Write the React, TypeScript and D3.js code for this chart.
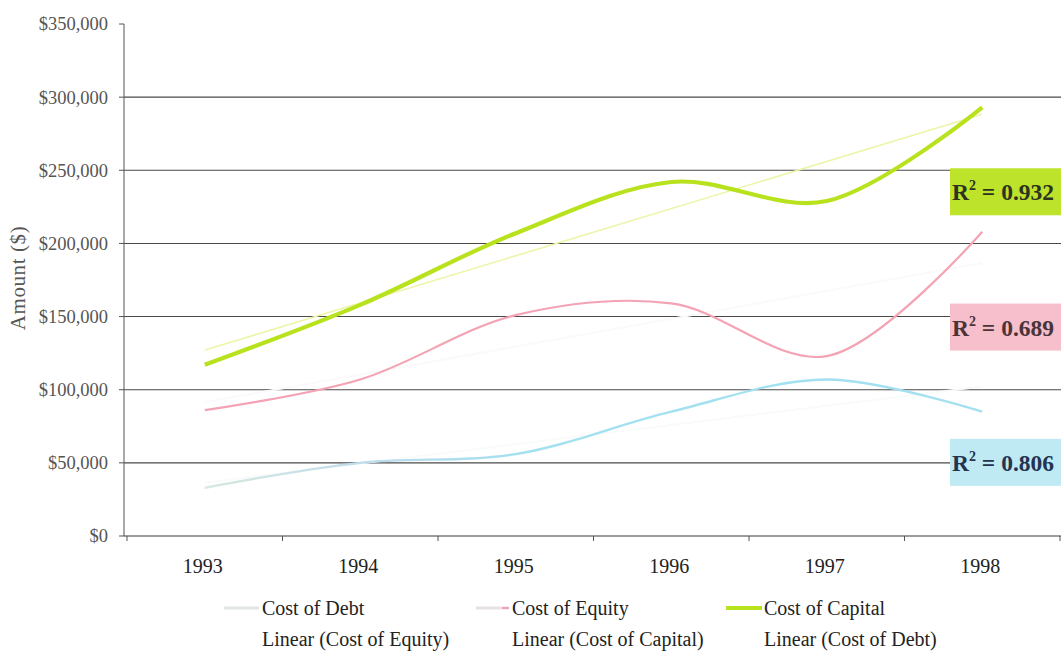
import React from "react";
import * as d3 from "d3";

// Yearly cost figures (US$)
const years = ["1993", "1994", "1995", "1996", "1997", "1998"];
const costOfDebt = [33000, 50000, 56000, 85000, 107000, 85000];
const costOfEquity = [86000, 107000, 151000, 159000, 123000, 208000];
const costOfCapital = [117000, 158000, 207000, 242000, 229000, 293000];
const yTicks = [0, 50000, 100000, 150000, 200000, 250000, 300000, 350000];
const rSquared = [
  { label: "0.932", fill: "#bde32a", text: "#2e3320" },
  { label: "0.689", fill: "#f6bfcb", text: "#4a3438" },
  { label: "0.806", fill: "#bfeaf3", text: "#243450" },
];

const W = 1061;
const H = 652;
const M = { left: 124, right: 1060, top: 24, bottom: 536 };
const FONT = "'Liberation Serif', 'DejaVu Serif', serif";

function linearFit(vals: number[]) {
  const n = vals.length;
  const xs = vals.map((_, i) => i);
  const mx = d3.mean(xs) as number;
  const my = d3.mean(vals) as number;
  let sxy = 0;
  let sxx = 0;
  xs.forEach((x, i) => {
    sxy += (x - mx) * (vals[i] - my);
    sxx += (x - mx) * (x - mx);
  });
  const slope = sxy / sxx;
  const icpt = my - slope * mx;
  return [0, n - 1].map((x) => ({ i: x, v: icpt + slope * x }));
}

export default function App() {
  const x = d3.scaleBand<string>().domain(years).range([127, M.right]);
  const cx = (i: number) => (x(years[i]) as number) + x.bandwidth() / 2;
  const y = d3.scaleLinear().domain([0, 350000]).range([M.bottom, M.top]);

  const smooth = d3
    .line<number>()
    .x((_, i) => cx(i))
    .y((v) => y(v))
    .curve(d3.curveCatmullRom.alpha(0.5));
  const straight = d3
    .line<{ i: number; v: number }>()
    .x((d) => cx(d.i))
    .y((d) => y(d.v));

  const bandEdges = years.map((yr) => x(yr) as number).concat([M.right]);
  const fmt = (v: number) => "$" + d3.format(",")(v);

  const boxY = [y(250000) - 2, y(150000) - 13, y(50000) - 24];

  return (
    <svg
      width={W}
      height={H}
      style={{ position: "absolute", left: 0, top: 0, background: "#fff" }}
      fontFamily={FONT}
    >
      <defs>
        <linearGradient id="debtFade" gradientUnits="userSpaceOnUse" x1={cx(0)} x2={cx(2)} y1={0} y2={0}>
          <stop offset="0" stopColor="#d9e8e1" />
          <stop offset="0.55" stopColor="#bcdcec" />
          <stop offset="1" stopColor="#a3e0f0" />
        </linearGradient>
      </defs>

      {/* gridlines */}
      {yTicks
        .filter((t) => t > 0 && t < 350000)
        .map((t) => (
          <line key={t} x1={M.left} x2={W} y1={y(t)} y2={y(t)} stroke="#4a4a4a" strokeWidth={1.1} />
        ))}

      {/* y axis */}
      <line x1={M.left} x2={M.left} y1={M.top} y2={M.bottom} stroke="#555" strokeWidth={1} />
      {yTicks.map((t) => (
        <g key={t}>
          <line x1={M.left - 5} x2={M.left} y1={y(t)} y2={y(t)} stroke="#555" />
          <text x={108} y={y(t)} dy="0.35em" textAnchor="end" fontSize={18.5} fill="#555">
            {fmt(t)}
          </text>
        </g>
      ))}
      <text
        transform={`translate(25,${278}) rotate(-90)`}
        textAnchor="middle"
        fontSize={21}
        letterSpacing={0.6}
        fill="#555"
      >
        Amount ($)
      </text>

      {/* x axis */}
      <line x1={M.left} x2={W} y1={M.bottom} y2={M.bottom} stroke="#3a3a3a" strokeWidth={1.2} />
      {bandEdges.map((e, i) => (
        <line key={i} x1={e} x2={e} y1={M.bottom} y2={M.bottom + 5} stroke="#555" />
      ))}
      {years.map((yr, i) => (
        <text key={yr} x={cx(i) - 2} y={573} textAnchor="middle" fontSize={20} fill="#222">
          {yr}
        </text>
      ))}

      {/* linear trendlines */}
      <path d={straight(linearFit(costOfEquity)) as string} fill="none" stroke="#fbf9f9" strokeWidth={2} />
      <path d={straight(linearFit(costOfDebt)) as string} fill="none" stroke="#f9fbfb" strokeWidth={2} />
      <path d={straight(linearFit(costOfCapital)) as string} fill="none" stroke="#eef5a8" strokeWidth={1.6} />

      {/* series */}
      <path d={smooth(costOfDebt) as string} fill="none" stroke="url(#debtFade)" strokeWidth={2.4} />
      <path d={smooth(costOfEquity) as string} fill="none" stroke="#f3a3b3" strokeWidth={2.2} />
      <path d={smooth(costOfCapital) as string} fill="none" stroke="#b9e21e" strokeWidth={4.2} />

      {/* R squared labels */}
      {rSquared.map((r, i) => (
        <g key={r.label} transform={`translate(950,${boxY[i]})`}>
          <rect x={0} y={0} width={111} height={47} fill={r.fill} />
          <text x={2} y={32} fontSize={23.5} fontWeight="bold" fill={r.text}>
            R
            <tspan fontSize={14} dy={-10}>2</tspan>
            <tspan dy={10}> = {r.label}</tspan>
          </text>
        </g>
      ))}

      {/* legend */}
      <g fontSize={20} fill="#222">
        <line x1={224} x2={259} y1={608} y2={608} stroke="#e2e6e4" strokeWidth={3} />
        <text x={262} y={615}>Cost of Debt</text>
        <line x1={476} x2={509} y1={608} y2={608} stroke="#e6e2e3" strokeWidth={3} />
        <line x1={502} x2={509} y1={608} y2={608} stroke="#f3a3b3" strokeWidth={2} />
        <text x={512} y={615}>Cost of Equity</text>
        <line x1={726} x2={762} y1={608} y2={608} stroke="#b9e21e" strokeWidth={4} />
        <text x={764} y={615}>Cost of Capital</text>
        <text x={262} y={646}>Linear (Cost of Equity)</text>
        <text x={512} y={646}>Linear (Cost of Capital)</text>
        <text x={764} y={646}>Linear (Cost of Debt)</text>
      </g>
    </svg>
  );
}
